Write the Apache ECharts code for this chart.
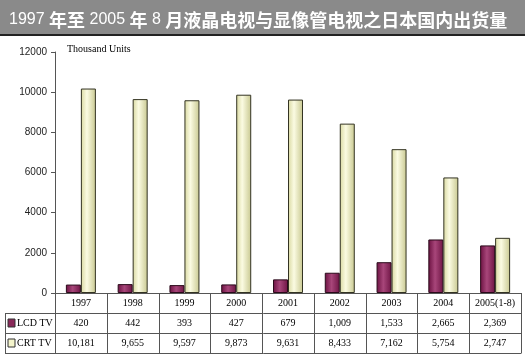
<!DOCTYPE html>
<html><head><meta charset="utf-8">
<script src="https://cdn.jsdelivr.net/npm/echarts@6/dist/echarts.min.js"></script>
<style>html,body{margin:0;padding:0;background:#fff}#c{width:525px;height:358px}</style>
</head><body><div id="c"></div>
<script>
const categories = ['1997','1998','1999','2000','2001','2002','2003','2004','2005(1-8)'];
const lcdValues = [420, 442, 393, 427, 679, 1009, 1533, 2665, 2369];
const crtValues = [10181, 9655, 9597, 9873, 9631, 8433, 7162, 5754, 2747];
const seriesNames = ['LCD TV', 'CRT TV'];
const yTicks = { min: 0, max: 12000, interval: 2000 };
const unitLabel = 'Thousand Units';
const titleParts = [['n','1997 '],['b','年至'],['n',' 2005 '],['b','年'],['n',' 8 '],['b','月液晶电视与显像管电视之日本国内出货量']];

const G = { left: 55, right: 4, top: 52, bottom: 65 };
const W = 525, H = 358;
const plotBottom = H - G.bottom, plotRight = W - G.right;
const colW = (plotRight - G.left) / categories.length;
const rowH = 20, tableLeft = 5;

const fmt = v => v.toLocaleString('en-US');
const lcdGrad = new echarts.graphic.LinearGradient(0,0,1,0,[
  {offset:0,color:'#6a1040'},{offset:0.45,color:'#a8467a'},{offset:1,color:'#6e1444'}]);
const crtGrad = new echarts.graphic.LinearGradient(0,0,1,0,[
  {offset:0,color:'#d8d8a0'},{offset:0.4,color:'#fbfbe2'},{offset:1,color:'#c8c890'}]);

const graphics = [
  {type:'rect', shape:{x:0,y:0,width:W,height:34}, style:{fill:'#8a8a8a'}, silent:true},
  {type:'line', shape:{x1:0,y1:35,x2:W,y2:35}, style:{stroke:'#222',lineWidth:2}},
  {type:'text', x:9, y:20, style:{
    text: titleParts.map(p => '{' + p[0] + '|' + p[1] + '}').join(''),
    verticalAlign:'middle',
    rich:{
      n:{fill:'#fff',fontSize:16,fontFamily:'Liberation Sans, Arial, sans-serif'},
      b:{fill:'#fff',fontSize:18,fontWeight:'bold',fontFamily:'Noto Sans CJK SC, sans-serif'}
    }}},
  {type:'text', left:67, top:44, style:{text:unitLabel, fill:'#000', fontSize:10, fontFamily:'Liberation Serif, Times New Roman, serif'}}
];
// table lines
const lineStyle = {stroke:'#555', lineWidth:1};
for (let i = 0; i <= categories.length; i++) {
  const x = Math.round(G.left + colW * i) + 0.5;
  graphics.push({type:'line', shape:{x1:x,y1:plotBottom,x2:x,y2:plotBottom+rowH*3}, style:lineStyle});
}
graphics.push({type:'line', shape:{x1:tableLeft+0.5,y1:plotBottom+rowH,x2:tableLeft+0.5,y2:plotBottom+rowH*3}, style:lineStyle});
for (let r = 1; r <= 3; r++) {
  const y = plotBottom + rowH * r + 0.5;
  graphics.push({type:'line', shape:{x1:tableLeft,y1:y,x2:plotRight+0.5,y2:y}, style:lineStyle});
}
// legend cells
[[lcdGrad,'#8a2a5a'],[crtGrad,'#f5f5cc']].forEach((c, i) => {
  const yc = plotBottom + rowH * (i + 1) + rowH / 2;
  graphics.push({type:'rect', shape:{x:8,y:yc-4,width:7,height:8}, style:{fill:c[1],stroke:'#333',lineWidth:1}});
  graphics.push({type:'text', x:17, y:yc, style:{text:seriesNames[i], fill:'#000', fontSize:10, verticalAlign:'middle',
    fontFamily:'Liberation Serif, Times New Roman, serif'}});
});

const chart = echarts.init(document.getElementById('c'), null, {renderer:'canvas'});
chart.setOption({
  animation:false,
  backgroundColor:'#fff',
  grid:{left:G.left, right:G.right, top:G.top, bottom:G.bottom, containLabel:false},
  xAxis:{type:'category', data:categories,
    axisLine:{show:true,lineStyle:{color:'#555'}}, axisTick:{show:false},
    axisLabel:{margin:0, interval:0,
      formatter:(v, idx) => '{y|' + v + '}\n{y|' + fmt(lcdValues[idx]) + '}\n{y|' + fmt(crtValues[idx]) + '}',
      rich:{y:{fontSize:10, lineHeight:20, height:20, color:'#000', fontFamily:'Liberation Serif, Times New Roman, serif'}}}},
  yAxis:{type:'value', min:yTicks.min, max:yTicks.max, interval:yTicks.interval,
    axisLine:{show:true,lineStyle:{color:'#555'}},
    axisTick:{show:true,length:4,lineStyle:{color:'#555'}},
    splitLine:{show:false},
    axisLabel:{margin:8, color:'#222', fontSize:10, formatter: v => String(v),
      fontFamily:'Liberation Sans, Arial, sans-serif'}},
  series:[
    {name:seriesNames[0], type:'bar', data:lcdValues, barWidth:15, barGap:'0%',
     itemStyle:{color:lcdGrad, borderColor:'#2a0a1a', borderWidth:1}},
    {name:seriesNames[1], type:'bar', data:crtValues, barWidth:15, barGap:'0%',
     itemStyle:{color:crtGrad, borderColor:'#333322', borderWidth:1}}
  ],
  graphic: graphics
});
</script></body></html>
